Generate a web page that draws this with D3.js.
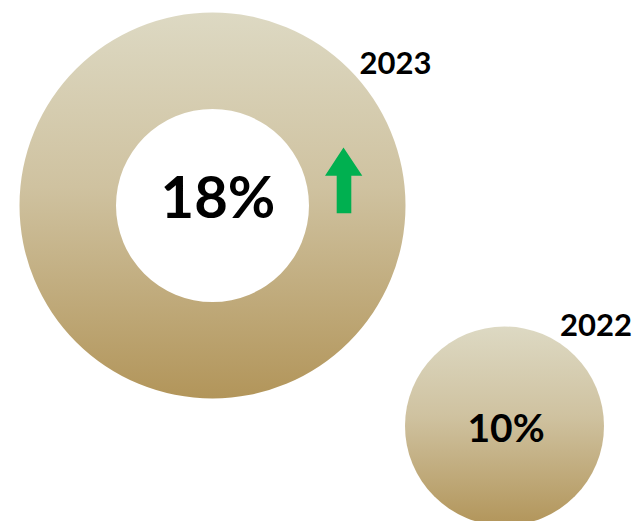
<!DOCTYPE html>
<html>
<head>
<meta charset="utf-8">
<script src="https://cdn.jsdelivr.net/npm/d3@7"></script>
<style>
  html, body { margin: 0; padding: 0; background: #ffffff; }
  svg { display: block; }
</style>
</head>
<body>
<script>
// Share by year
const years = ["2023", "2022"];
const shares = [18, 10];
const labels = ["18%", "10%"];
const trend = ["up", null];

const width = 635, height = 521;

const svg = d3.select("body").append("svg")
  .attr("width", width)
  .attr("height", height);

const defs = svg.append("defs");
const grad = defs.append("linearGradient")
  .attr("id", "gold")
  .attr("x1", 0).attr("y1", 0).attr("x2", 0).attr("y2", 1);
grad.append("stop").attr("offset", "0%").attr("stop-color", "#ddd9c3");
grad.append("stop").attr("offset", "45%").attr("stop-color", "#cfc2a0");
grad.append("stop").attr("offset", "100%").attr("stop-color", "#b2955a");

// layout per year
const cx = d3.scaleOrdinal().domain(years).range([212.5, 504.5]);
const cy = d3.scaleOrdinal().domain(years).range([205.5, 426]);
const rOuter = d3.scaleOrdinal().domain(years).range([193, 99.5]);
const rInner = d3.scaleOrdinal().domain(years).range([96.5, 0]);
const valueSize = d3.scaleOrdinal().domain(years).range([58, 39]);
const valueDx = d3.scaleOrdinal().domain(years).range([5.5, 1.5]);
const valueBase = d3.scaleOrdinal().domain(years).range([12.5, 15.5]);

const data = years.map((y, i) => ({ year: y, share: shares[i], label: labels[i], trend: trend[i] }));

const g = svg.selectAll("g.bubble").data(data).join("g")
  .attr("class", "bubble")
  .attr("transform", d => `translate(${cx(d.year)},${cy(d.year)})`);

g.append("path")
  .attr("d", d => d3.arc()
    .innerRadius(rInner(d.year))
    .outerRadius(rOuter(d.year))
    .startAngle(0).endAngle(2 * Math.PI)())
  .attr("fill", "url(#gold)");

g.append("text")
  .attr("text-anchor", "middle")
  .attr("x", d => valueDx(d.year))
  .attr("y", d => valueBase(d.year))
  .attr("font-family", "Lato, 'Open Sans', sans-serif")
  .attr("font-weight", 700)
  .attr("font-size", d => valueSize(d.year))
  .attr("fill", "#000")
  .text(d => d.label);

// year labels
const yearPos = { "2023": [395.5, 74], "2022": [596, 336] };
svg.selectAll("text.year").data(data).join("text")
  .attr("class", "year")
  .attr("x", d => yearPos[d.year][0])
  .attr("y", d => yearPos[d.year][1])
  .attr("text-anchor", "middle")
  .attr("font-family", "Lato, 'Open Sans', sans-serif")
  .attr("font-weight", 700)
  .attr("font-size", 31)
  .attr("fill", "#000")
  .text(d => d.year);

// trend arrow
const arrow = d3.path();
arrow.moveTo(343.5, 147.5);
arrow.lineTo(362.3, 175.7);
arrow.lineTo(351.3, 175.7);
arrow.lineTo(351.3, 213.3);
arrow.lineTo(336.7, 213.3);
arrow.lineTo(336.7, 175.7);
arrow.lineTo(325, 175.7);
arrow.closePath();
svg.selectAll("path.trend").data(data.filter(d => d.trend === "up")).join("path")
  .attr("class", "trend")
  .attr("d", arrow.toString())
  .attr("fill", "#00b050");
</script>
</body>
</html>
